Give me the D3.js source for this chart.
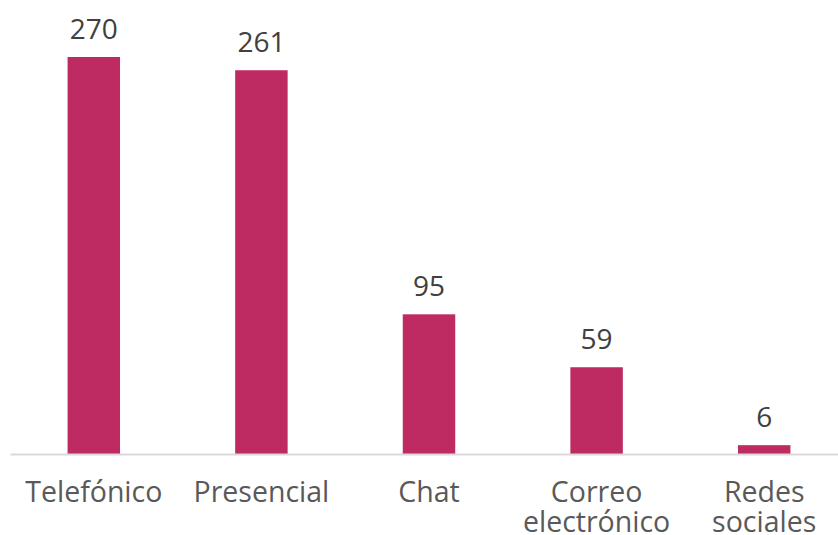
<!DOCTYPE html>
<html>
<head>
<meta charset="utf-8">
<script src="https://cdn.jsdelivr.net/npm/d3@7"></script>
<style>
  html, body { margin: 0; padding: 0; background: #fff; }
  svg { display: block; }
</style>
</head>
<body>
<svg id="chart" width="838" height="535"></svg>
<script>
// Canales de atención
const categories = ["Telefónico", "Presencial", "Chat", "Correo electrónico", "Redes sociales"];
const categoryLines = [["Telefónico"], ["Presencial"], ["Chat"], ["Correo", "electrónico"], ["Redes", "sociales"]];
const values = [270, 261, 95, 59, 6];

const width = 838, height = 535;
const baseline = 454;
const svg = d3.select("#chart");

const x = d3.scaleBand()
  .domain(categories)
  .range([10, 848])
  .paddingInner(0.687)
  .paddingOuter(0.3435);

const y = d3.scaleLinear()
  .domain([0, 270])
  .range([baseline, 57]);

const font = "'Open Sans', sans-serif";

// bars
svg.append("g").selectAll("rect")
  .data(values)
  .join("rect")
  .attr("x", (d, i) => x(categories[i]))
  .attr("y", d => y(d))
  .attr("width", x.bandwidth())
  .attr("height", d => baseline - y(d))
  .attr("fill", "#BE2A62");

// category axis
const axis = svg.append("g")
  .attr("transform", `translate(0,${baseline})`)
  .call(d3.axisBottom(x).tickSize(0).tickFormat(""));
axis.select(".domain").attr("stroke", "#d9d9d9").attr("stroke-width", 2);

// category labels (wrapped)
const labels = svg.append("g")
  .selectAll("text")
  .data(categories)
  .join("text")
  .attr("text-anchor", "middle")
  .attr("font-family", font)
  .attr("font-size", 28.5)
  .attr("fill", "#595959")
  .attr("transform", d => `translate(${x(d) + x.bandwidth() / 2},502)`);
labels.each(function(d, i) {
  d3.select(this).selectAll("tspan")
    .data(categoryLines[i])
    .join("tspan")
    .attr("x", 0)
    .attr("dy", (t, j) => j === 0 ? 0 : 29.5)
    .text(t => t);
});

// value labels
svg.append("g").selectAll("text")
  .data(values)
  .join("text")
  .attr("text-anchor", "middle")
  .attr("font-family", font)
  .attr("font-size", 28)
  .attr("fill", "#404040")
  .attr("x", (d, i) => x(categories[i]) + x.bandwidth() / 2)
  .attr("y", d => y(d) - 18.5)
  .text(d => d);
</script>
</body>
</html>
